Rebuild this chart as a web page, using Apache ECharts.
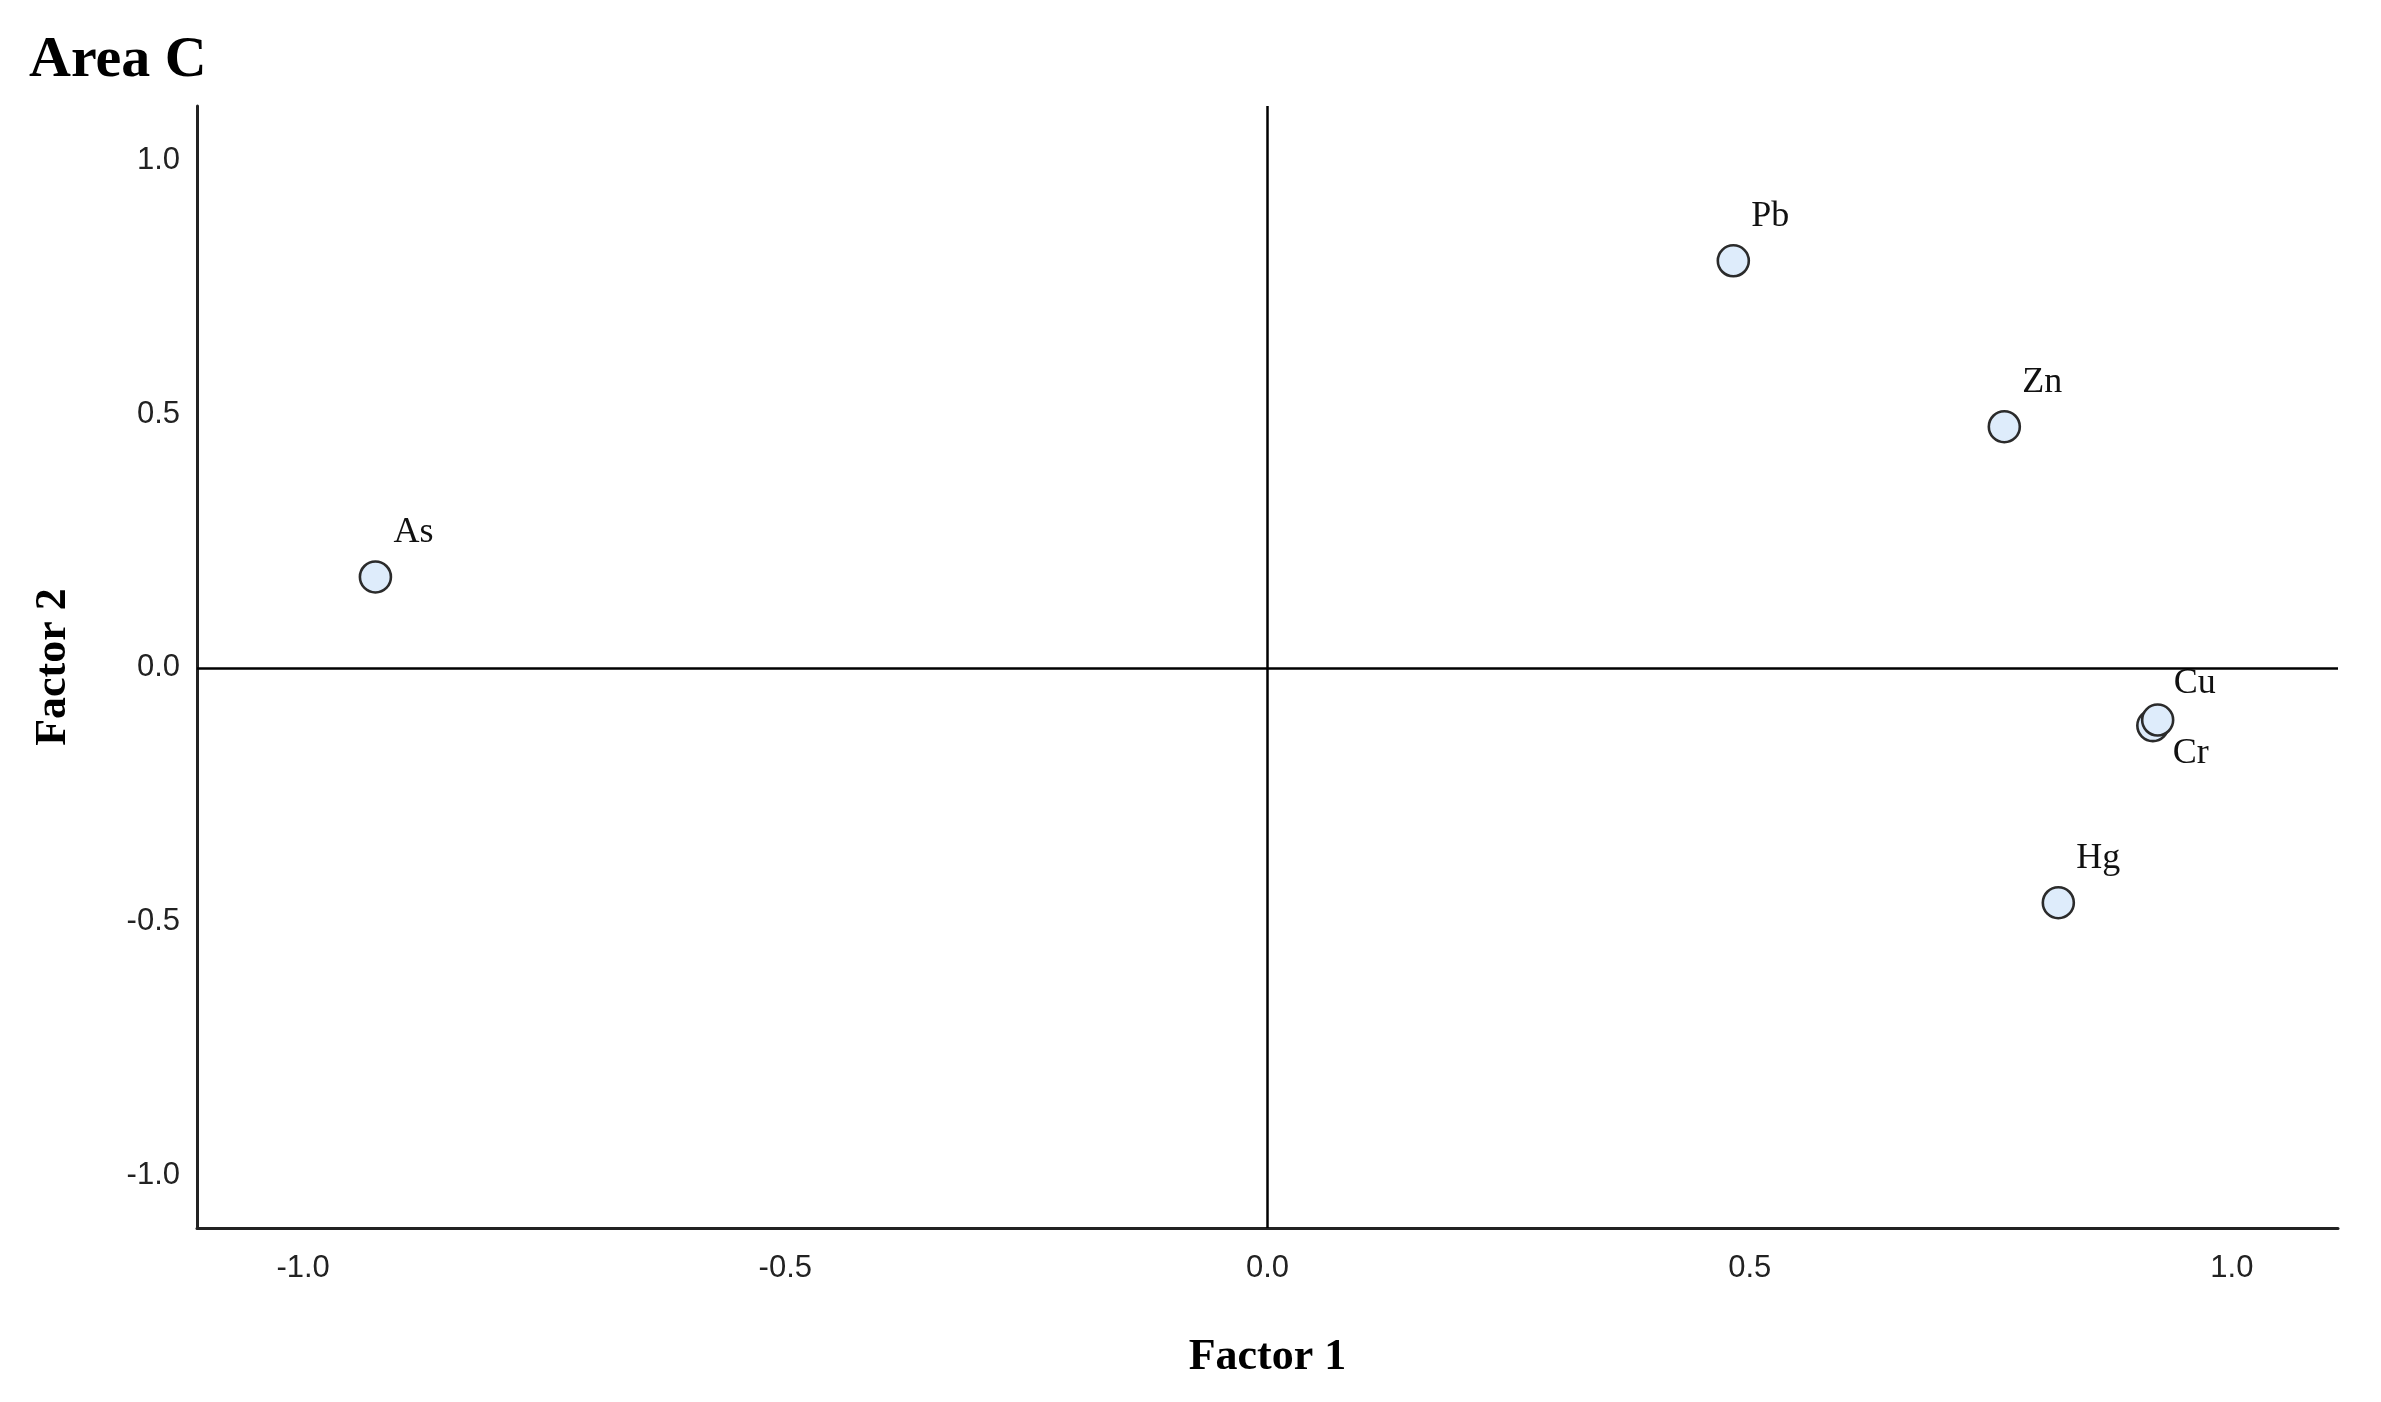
<!DOCTYPE html>
<html>
<head>
<meta charset="utf-8">
<title>Area C</title>
<script src="https://cdn.jsdelivr.net/npm/echarts@6/dist/echarts.min.js"></script>
<style>
  html, body { margin: 0; padding: 0; background: #fff; }
  #chart { width: 2381px; height: 1402px; }
</style>
</head>
<body>
<div id="chart"></div>
<script>
// loadings (Cr before Cu so Cu is drawn on top)
const elements = ['Pb', 'Zn', 'As', 'Cr', 'Cu', 'Hg'];
const factor1 = [0.483, 0.764, -0.925, 0.918, 0.923, 0.820];
const factor2 = [0.802, 0.475, 0.179, -0.114, -0.103, -0.463];
const tickValues = [-1.0, -0.5, 0.0, 0.5, 1.0];

// Cr sits under Cu, so its label goes below the point
const labelBelow = ['Cr'];

const chart = echarts.init(document.getElementById('chart'));

const serif = '"Liberation Serif", "DejaVu Serif", serif';
const tickFont = {
  fontFamily: '"Liberation Sans", Arial, sans-serif',
  fontSize: 31,
  color: '#222',
  padding: [6, 0, 0, 0]
};

const labelOffset = name => {
  if (labelBelow.includes(name)) return [20, 28];
  if (name === 'Cu') return [16, -36];
  return [18, -44];
};

const points = elements.map((name, i) => ({
  name: name,
  value: [factor1[i], factor2[i]],
  label: { offset: labelOffset(name) }
}));

const option = {
  backgroundColor: '#fff',
  animation: false,
  title: {
    text: 'Area C',
    left: 24,
    top: 27,
    textStyle: {
      fontFamily: serif,
      fontSize: 58,
      fontWeight: 'bold',
      color: '#000'
    }
  },
  grid: {
    left: 197,
    right: 43,
    top: 106,
    bottom: 174
  },
  xAxis: {
    type: 'value',
    min: -1.11,
    max: 1.11,
    name: 'Factor 1',
    nameLocation: 'middle',
    nameGap: 108,
    nameTextStyle: {
      fontFamily: serif,
      fontSize: 44,
      fontWeight: 'bold',
      color: '#000'
    },
    axisLine: { onZero: false, lineStyle: { color: '#222', width: 3 } },
    axisTick: { show: false },
    splitLine: { show: false },
    axisLabel: Object.assign({
      customValues: tickValues,
      margin: 19,
      formatter: v => v.toFixed(1)
    }, tickFont)
  },
  yAxis: {
    type: 'value',
    min: -1.104,
    max: 1.107,
    name: 'Factor 2',
    nameLocation: 'middle',
    nameGap: 121,
    nameTextStyle: {
      fontFamily: serif,
      fontSize: 44,
      fontWeight: 'bold',
      color: '#000'
    },
    axisLine: { onZero: false, lineStyle: { color: '#222', width: 3 } },
    axisTick: { show: false },
    splitLine: { show: false },
    axisLabel: Object.assign({
      customValues: tickValues,
      margin: 17,
      formatter: v => v.toFixed(1)
    }, tickFont)
  },
  series: [
    {
      type: 'scatter',
      data: points,
      symbol: 'circle',
      symbolSize: 31,
      itemStyle: {
        color: '#deecfb',
        borderColor: '#2b2b2b',
        borderWidth: 2.6,
        opacity: 1
      },
      label: {
        show: true,
        position: 'inside',
        align: 'left',
        verticalAlign: 'middle',
        formatter: p => p.name,
        fontFamily: serif,
        fontSize: 36,
        color: '#111'
      },
      markLine: {
        silent: true,
        symbol: 'none',
        label: { show: false },
        lineStyle: { color: '#000', width: 2.5, type: 'solid' },
        data: [{ xAxis: 0 }, { yAxis: 0 }]
      },
      z: 3
    }
  ]
};

chart.setOption(option);
window.addEventListener('resize', () => chart.resize());
</script>
</body>
</html>
